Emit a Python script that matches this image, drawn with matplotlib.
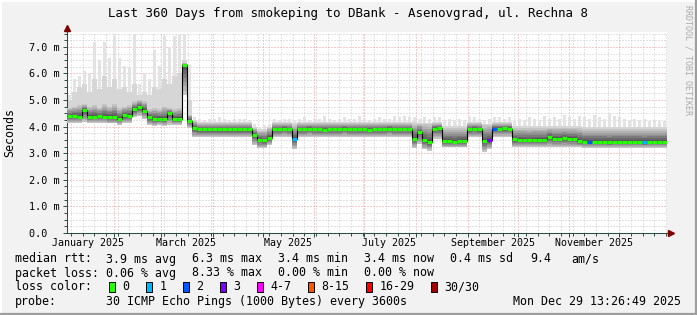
import numpy as np
import matplotlib
matplotlib.use("Agg")
import matplotlib.pyplot as plt
import matplotlib.dates as mdates
from matplotlib.ticker import MultipleLocator, FuncFormatter, NullFormatter
from matplotlib.patches import Rectangle
from matplotlib.lines import Line2D
from datetime import datetime, timedelta

plt.rcParams['font.family'] = ['DejaVu Sans Mono']

# one value per 3 days, starting Jan 3 2025 13:26:49 (360 days)
start = datetime(2025, 1, 3, 13, 26, 49)
bin_days = 3

# median rtt in ms
median = ([4.40, 4.40, 4.38, 4.62, 4.38, 4.38, 4.40, 4.37, 4.37, 4.36,
           4.30, 4.42, 4.40, 4.65, 4.74, 4.60, 4.35, 4.28, 4.30, 4.28,
           4.50, 4.30, 4.30, 6.30, 4.22, 3.95]
          + [3.90] * 11
          + [3.70, 3.50, 3.48, 3.58, 3.90, 3.90, 3.92, 3.90, 3.55]
          + [3.90, 3.90, 3.92, 3.90, 3.90, 3.88, 3.90, 3.90, 3.90, 3.92,
             3.90, 3.90, 3.90, 3.90, 3.88, 3.90, 3.90, 3.90, 3.92, 3.90,
             3.90, 3.90, 3.90]
          + [3.55, 3.80, 3.50, 3.42, 3.92, 3.95]
          + [3.45, 3.45, 3.43, 3.45, 3.45]
          + [3.90, 3.92, 3.90, 3.45, 3.50, 3.93, 3.93, 3.94, 3.93]
          + [3.52, 3.50, 3.50, 3.48, 3.50, 3.50, 3.50, 3.62,
             3.55, 3.55, 3.57, 3.55, 3.55, 3.47]
          + [3.43, 3.43, 3.44, 3.43, 3.43, 3.42, 3.43, 3.43, 3.44, 3.43,
             3.43, 3.43, 3.42, 3.43, 3.43, 3.43, 3.43])

# lost pings (of 30) per bin
loss = [0] * 120
loss[45] = 1
loss[84] = 3
loss[85] = 2
loss[104] = 2
loss[115] = 1

# smoke: lowest ping, top of the dense band, upper pings, highest ping
smoke_lo = ([4.15, 4.12, 4.15, 4.18, 4.12, 4.15, 4.12, 4.15, 4.12, 4.12,
             4.08, 4.15, 4.15, 4.35, 4.40, 4.30, 4.05, 4.02, 4.05, 4.02,
             4.08, 4.05, 4.05, 5.20, 3.95, 3.60]
            + [3.60] * 11
            + [3.30, 3.20, 3.20, 3.30, 3.62, 3.62, 3.62, 3.62, 3.15]
            + [3.62] * 23
            + [3.20, 3.35, 3.15, 3.10, 3.55, 3.55]
            + [3.22] * 5
            + [3.60, 3.60, 3.60, 3.05, 3.15, 3.62, 3.62, 3.62, 3.62]
            + [3.22] * 14
            + [3.20] * 17)

smoke_hi = ([4.70, 4.75, 4.80, 4.85, 4.75, 4.80, 4.70, 4.85, 4.75, 4.85,
             4.70, 4.75, 4.80, 4.95, 5.00, 4.95, 4.65, 4.70, 4.65, 4.75,
             4.70, 4.65, 4.70, 6.40, 4.45, 4.20]
            + [4.12] * 11
            + [3.95, 3.85, 3.85, 3.95, 4.12, 4.12, 4.12, 4.12, 4.05]
            + [4.12] * 23
            + [4.10, 4.10, 4.10, 4.10, 4.12, 4.12]
            + [3.95] * 5
            + [4.12, 4.12, 4.12, 4.05, 4.05, 4.12, 4.12, 4.12, 4.12]
            + [3.95] * 14
            + [3.90] * 17)

smoke_up = ([5.0, 5.3, 5.5, 5.6, 5.3, 5.8, 5.4, 5.9, 5.5, 5.8,
             5.4, 5.5, 5.3, 5.6, 5.2, 5.3, 5.2, 5.5, 5.4, 5.8,
             5.6, 5.9, 6.0, 6.5, 5.0, 4.25]
            + [4.18] * 11
            + [4.00, 3.92, 3.92, 4.00, 4.18, 4.18, 4.18, 4.18, 4.12]
            + [4.18] * 23
            + [4.18, 4.15, 4.15, 4.15, 4.18, 4.18]
            + [4.02] * 5
            + [4.18, 4.18, 4.18, 4.10, 4.10, 4.18, 4.18, 4.18, 4.18]
            + [4.02] * 14
            + [3.98] * 17)

smoke_max = ([5.2, 5.8, 5.9, 6.1, 6.0, 7.2, 6.5, 7.2, 6.6, 7.4,
              6.6, 6.3, 6.2, 7.5, 5.6, 6.0, 5.8, 6.9, 6.3, 7.4,
              7.0, 7.4, 7.5, 7.5, 6.3, 4.35]
             + [4.30, 4.25, 4.30, 4.30, 4.35, 4.30, 4.25, 4.30, 4.30, 4.30, 4.25]
             + [4.10, 4.00, 4.05, 4.10, 4.30, 4.25, 4.30, 4.30, 4.20]
             + [4.30, 4.35, 4.25, 4.30, 4.30, 4.40, 4.30, 4.25, 4.30, 4.35,
                4.30, 4.30, 4.40, 4.30, 4.25, 4.30, 4.35, 4.30, 4.30, 4.40,
                4.35, 4.40, 4.35]
             + [4.35, 4.30, 4.35, 4.30, 4.35, 4.35]
             + [4.25, 4.30, 4.25, 4.30, 4.25]
             + [4.35, 4.35, 4.30, 4.25, 4.30, 4.35, 4.35, 4.30, 4.35]
             + [4.20, 4.30, 4.25, 4.35, 4.30, 4.25, 4.40, 4.30, 4.35, 4.30,
                4.45, 4.35, 4.30, 4.40]
             + [4.35, 4.30, 4.45, 4.35, 4.30, 4.50, 4.40, 4.35, 4.30, 4.25,
                4.30, 4.25, 4.30, 4.20, 4.25, 4.20, 4.20])

month_labels = ['January 2025', 'March 2025', 'May 2025',
                'July 2025', 'September 2025', 'November 2025']
label_months = [1, 3, 5, 7, 9, 11]

loss_names = ['0', '1', '2', '3', '4-7', '8-15', '16-29', '30/30']
loss_colors = ['#26ff00', '#00b8ff', '#0059ff', '#7e00ff',
               '#ff00ff', '#ff5500', '#ff0000', '#a10000']

title = 'Last 360 Days from smokeping to DBank - Asenovgrad, ul. Rechna 8'
stamp = 'Mon Dec 29 13:26:49 2025'

W, H = 697, 315


def fx(x):
    return x / W


def fy(y):
    return 1 - y / H


def loss_color(n):
    if n == 0:
        return loss_colors[0]
    if n <= 3:
        return loss_colors[n]
    if n <= 7:
        return loss_colors[4]
    if n <= 15:
        return loss_colors[5]
    if n <= 29:
        return loss_colors[6]
    return loss_colors[7]


def stepy(a):
    a = np.asarray(a, dtype=float)
    return np.append(a, a[-1])


med = np.array(median)
lo = np.array(smoke_lo)
hi = np.array(smoke_hi)
up = np.array(smoke_up)
mx = np.array(smoke_max)
n = len(med)
xe = mdates.date2num([start + timedelta(days=bin_days * i) for i in range(n + 1)])
xc = (xe[:-1] + xe[1:]) / 2

fig = plt.figure(figsize=(W / 100, H / 100), dpi=100, facecolor='#f2f2f2')
ax = fig.add_axes([fx(67), fy(233), 600 / W, 201 / H])
ax.set_facecolor('white')
ax.set_xlim(xe[0], xe[0] + 360)
ax.set_ylim(0, 7.56)

# smoke: thin spikes for the highest pings, lighter fill for the upper ones
ax.bar(xc, mx - med, bottom=med, width=bin_days * 0.55, color='#e3e3e3',
       lw=0, zorder=2)
ax.fill_between(xe, stepy(np.minimum(med, lo)), stepy(up), step='post',
                color='#d6d6d6', lw=0, zorder=2)
levels = 7
for k in range(levels, 0, -1):
    f = k / levels
    lower = med - f * (med - lo)
    upper = med + f * (hi - med)
    g = 0.27 + 0.50 * f
    ax.fill_between(xe, stepy(lower), stepy(upper), step='post',
                    color=(g, g, g), lw=0, zorder=3)

# median line coloured by loss
ax.step(xe, stepy(med), where='post', color='black', lw=0.8, zorder=4)
ax.hlines(med, xe[:-1], xe[1:], colors=[loss_color(v) for v in loss],
          lw=2.2, zorder=5)

# grid
ax.xaxis.set_major_locator(mdates.MonthLocator())
ax.xaxis.set_minor_locator(mdates.WeekdayLocator(byweekday=mdates.MO))
ax.xaxis.set_major_formatter(NullFormatter())
ax.yaxis.set_major_locator(MultipleLocator(1))
ax.yaxis.set_minor_locator(MultipleLocator(0.25))
ax.yaxis.set_major_formatter(FuncFormatter(
    lambda v, p: '%.1f m' % v if v > 0 else '0.0  '))
ax.grid(which='minor', color='#c8c8c8', lw=0.72, linestyle=(0, (1, 2)), zorder=1)
ax.grid(which='major', color='#ec9a9a', lw=0.72, linestyle=(0, (1, 2)), zorder=1)
ax.set_axisbelow(True)

for s in ['top', 'right']:
    ax.spines[s].set_visible(False)
for s in ['left', 'bottom']:
    ax.spines[s].set_color('#2c4d43')
    ax.spines[s].set_linewidth(0.75)
ax.tick_params(which='both', color='#2c4d43', width=0.7, direction='out')
ax.tick_params(which='major', length=3)
ax.tick_params(which='minor', length=2)
ax.tick_params(axis='y', labelsize=7.3, pad=2)

# axis arrows
ax.plot([0, 0], [1.0, 1.02], transform=ax.transAxes, color='#2c4d43',
        lw=0.75, clip_on=False)
ax.plot([1.0, 1.005], [0, 0], transform=ax.transAxes, color='#2c4d43',
        lw=0.75, clip_on=False)
ax.plot([0], [1.022], marker='^', ms=4.5, color='#7f0000',
        transform=ax.transAxes, clip_on=False)
ax.plot([1.007], [0], marker='>', ms=4.5, color='#7f0000',
        transform=ax.transAxes, clip_on=False)

# month labels centred on the middle of the month
for m, lab in zip(label_months, month_labels):
    t = mdates.date2num(datetime(2025, m, 16))
    ax.text(t, -9.7 / 201, lab, transform=ax.get_xaxis_transform(),
            ha='center', va='center', fontsize=7.2)

fig.text(fx(348), fy(13), title, ha='center', va='center', fontsize=9)
fig.text(fx(10), fy(132.5), 'Seconds', rotation=90, ha='center',
         va='center', fontsize=8.4)
fig.text(fx(688), fy(60), 'RRDTOOL / TOBI OETIKER', rotation=270,
         ha='center', va='center', fontsize=6, color='#aaaaaa')

# legend block
fs = 8.4
rows = [
    (259, [(16, 'median rtt:'), (107, '3.9 ms avg'), (193, '6.3 ms max'),
           (279, '3.4 ms min'), (365, '3.4 ms now'), (451, '0.4 ms sd'),
           (531, '9.4'), (572, 'am/s')]),
    (273, [(16, 'packet loss:'), (107, '0.06 % avg'), (193, '8.33 % max'),
           (279, '0.00 % min'), (365, '0.00 % now')]),
    (287, [(16, 'loss color:')]),
    (301.5, [(16, 'probe:'), (107, '30 ICMP Echo Pings (1000 Bytes) every 3600s')]),
]
for y, items in rows:
    for x, s in items:
        fig.text(fx(x - 1), fy(y), s, ha='left', va='center', fontsize=fs)
fig.text(fx(681), fy(301.5), stamp, ha='right', va='center', fontsize=fs)

box_x = [108.7, 145.7, 182.7, 219.7, 256.7, 307.7, 365.7, 430.7]
for bx, name, c in zip(box_x, loss_names, loss_colors):
    fig.add_artist(Rectangle((fx(bx), fy(291.5)), 6.5 / W, 9.5 / H,
                             transform=fig.transFigure, facecolor=c,
                             edgecolor='black', lw=0.7))
    fig.text(fx(bx + 13.5), fy(287), name, ha='left', va='center', fontsize=fs)

# 3d frame
fig.add_artist(Line2D([0, 1], [fy(0.5), fy(0.5)], transform=fig.transFigure, color='white', lw=1.4))
fig.add_artist(Line2D([fx(0.5), fx(0.5)], [0, 1], transform=fig.transFigure, color='white', lw=1.4))
fig.add_artist(Line2D([0, 1], [fy(314), fy(314)], transform=fig.transFigure, color='#9e9e9e', lw=1.6))
fig.add_artist(Line2D([fx(696), fx(696)], [0, 1], transform=fig.transFigure, color='#9e9e9e', lw=1.6))

fig.savefig('out.png', dpi=100, facecolor=fig.get_facecolor())
